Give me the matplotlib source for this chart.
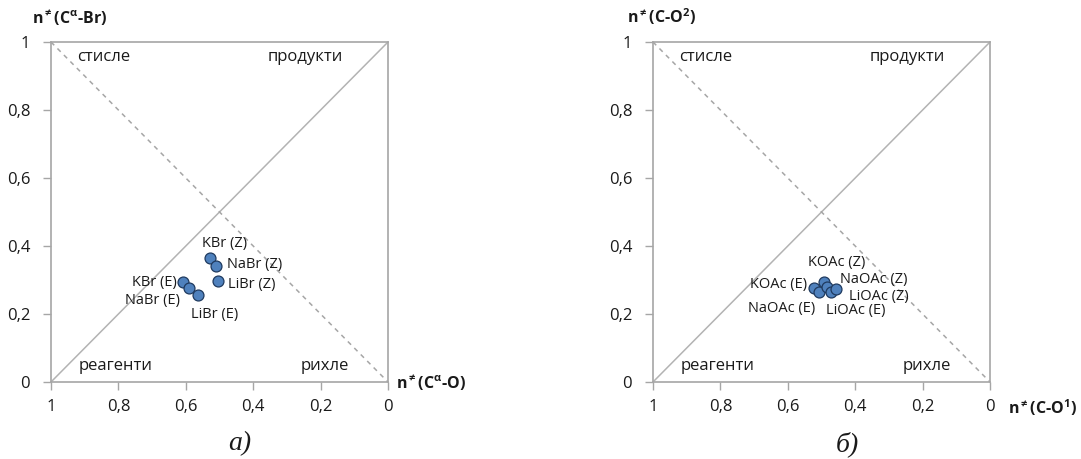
import matplotlib
matplotlib.use("Agg")
import matplotlib.pyplot as plt
from matplotlib.ticker import FuncFormatter

plt.rcParams["font.family"] = ["Open Sans", "DejaVu Sans"]
plt.rcParams["mathtext.fontset"] = "custom"
plt.rcParams["mathtext.rm"] = "Open Sans"
plt.rcParams["mathtext.bf"] = "Open Sans:bold"
plt.rcParams["mathtext.default"] = "bf"

# panel a) bromides
br_names = ["KBr (Z)", "NaBr (Z)", "LiBr (Z)", "KBr (E)", "NaBr (E)", "LiBr (E)"]
br_x = [0.528, 0.510, 0.504, 0.608, 0.590, 0.563]
br_y = [0.365, 0.341, 0.297, 0.293, 0.276, 0.256]

# panel б) acetates
ac_names = ["KOAc (E)", "NaOAc (E)", "KOAc (Z)", "NaOAc (Z)", "LiOAc (E)", "LiOAc (Z)"]
ac_x = [0.521, 0.507, 0.492, 0.485, 0.473, 0.457]
ac_y = [0.277, 0.266, 0.293, 0.280, 0.264, 0.273]

ticks = [0, 0.2, 0.4, 0.6, 0.8, 1]
corner_labels = ["стисле", "продукти", "реагенти", "рихле"]

GRID = "#a6a6a6"
FILL = "#4f81bd"
EDGE = "#1f3a5f"
TXT = "#1a1a1a"

# label offsets (pixels) and alignment, per point
br_offsets = [(14, 14, "center"), (11, 2, "left"), (10, -3, "left"),
              (-6, 0, "right"), (-9, -12, "right"), (-7, -20, "left")]
ac_offsets = [(-7, 3, "right"), (-4, -17, "right"), (12, 20, "center"),
              (13, 7, "left"), (-5, -18, "left"), (13, -7, "left")]


def comma(v, _pos):
    s = f"{v:.1f}".rstrip("0").rstrip(".")
    return s.replace(".", ",")


def panel(ax, xs, ys, names, offsets, ylab, ylab_x, xlab, xlab_pos, caption, cap_x):
    ax.set_xlim(1, 0)
    ax.set_ylim(0, 1)
    for sp in ax.spines.values():
        sp.set_color(GRID)
        sp.set_linewidth(1.2)
    ax.set_xticks(ticks)
    ax.set_yticks(ticks)
    ax.xaxis.set_major_formatter(FuncFormatter(comma))
    ax.yaxis.set_major_formatter(FuncFormatter(comma))
    ax.tick_params(colors=GRID, labelcolor=TXT, labelsize=12, length=6,
                   width=1, direction="out")
    ax.tick_params(axis="x", pad=6)
    ax.tick_params(axis="y", pad=9)

    ax.plot([1, 0], [0, 1], color="#b3b3b3", lw=1.1, zorder=1)
    ax.plot([1, 0], [1, 0], color="#a6a6a6", lw=1.1, ls=(0, (3, 3)), zorder=1)

    ax.scatter(xs, ys, s=62, color=FILL, edgecolor=EDGE, linewidth=0.9, zorder=3)
    for x, y, name, (dx, dy, ha) in zip(xs, ys, names, offsets):
        ax.annotate(name, (x, y), xytext=(dx, dy), textcoords="offset pixels",
                    ha=ha, va="center", fontsize=10.5, color=TXT)

    kw = dict(transform=ax.transAxes, fontsize=12, color=TXT, va="center")
    ax.text(0.077, 0.956, corner_labels[0], ha="left", **kw)
    ax.text(0.755, 0.956, corner_labels[1], ha="center", **kw)
    ax.text(0.193, 0.047, corner_labels[2], ha="center", **kw)
    ax.text(0.813, 0.047, corner_labels[3], ha="center", **kw)

    ax.text(ylab_x, 1.045, ylab, transform=ax.transAxes, fontsize=11.5,
            color=TXT, ha="left", va="bottom", fontweight="bold")
    ax.text(xlab_pos[0], xlab_pos[1], xlab, transform=ax.transAxes,
            fontsize=11.5, color=TXT, ha="left", va="center",
            fontweight="bold")
    ax.text(cap_x, -0.145, caption, transform=ax.transAxes, fontsize=20,
            ha="center", va="top", style="italic", family="Liberation Serif",
            color=TXT)


fig = plt.figure(figsize=(10.81, 4.59), dpi=100)
ax1 = fig.add_axes([51 / 1081, 77 / 459, 337 / 1081, 340 / 459])
ax2 = fig.add_axes([653 / 1081, 77 / 459, 337 / 1081, 340 / 459])

panel(ax1, br_x, br_y, br_names, br_offsets,
      r"n$^{\neq}$(C$^{\alpha}$-Br)", -0.056, r"n$^{\neq}$(C$^{\alpha}$-O)",
      (1.024, 0.0), "а)", 0.56)
panel(ax2, ac_x, ac_y, ac_names, ac_offsets,
      r"n$^{\neq}$(C-O$^{2}$)", -0.077, r"n$^{\neq}$(C-O$^{1}$)",
      (1.053, -0.076), "б)", 0.576)

fig.savefig("out.png", dpi=100)
